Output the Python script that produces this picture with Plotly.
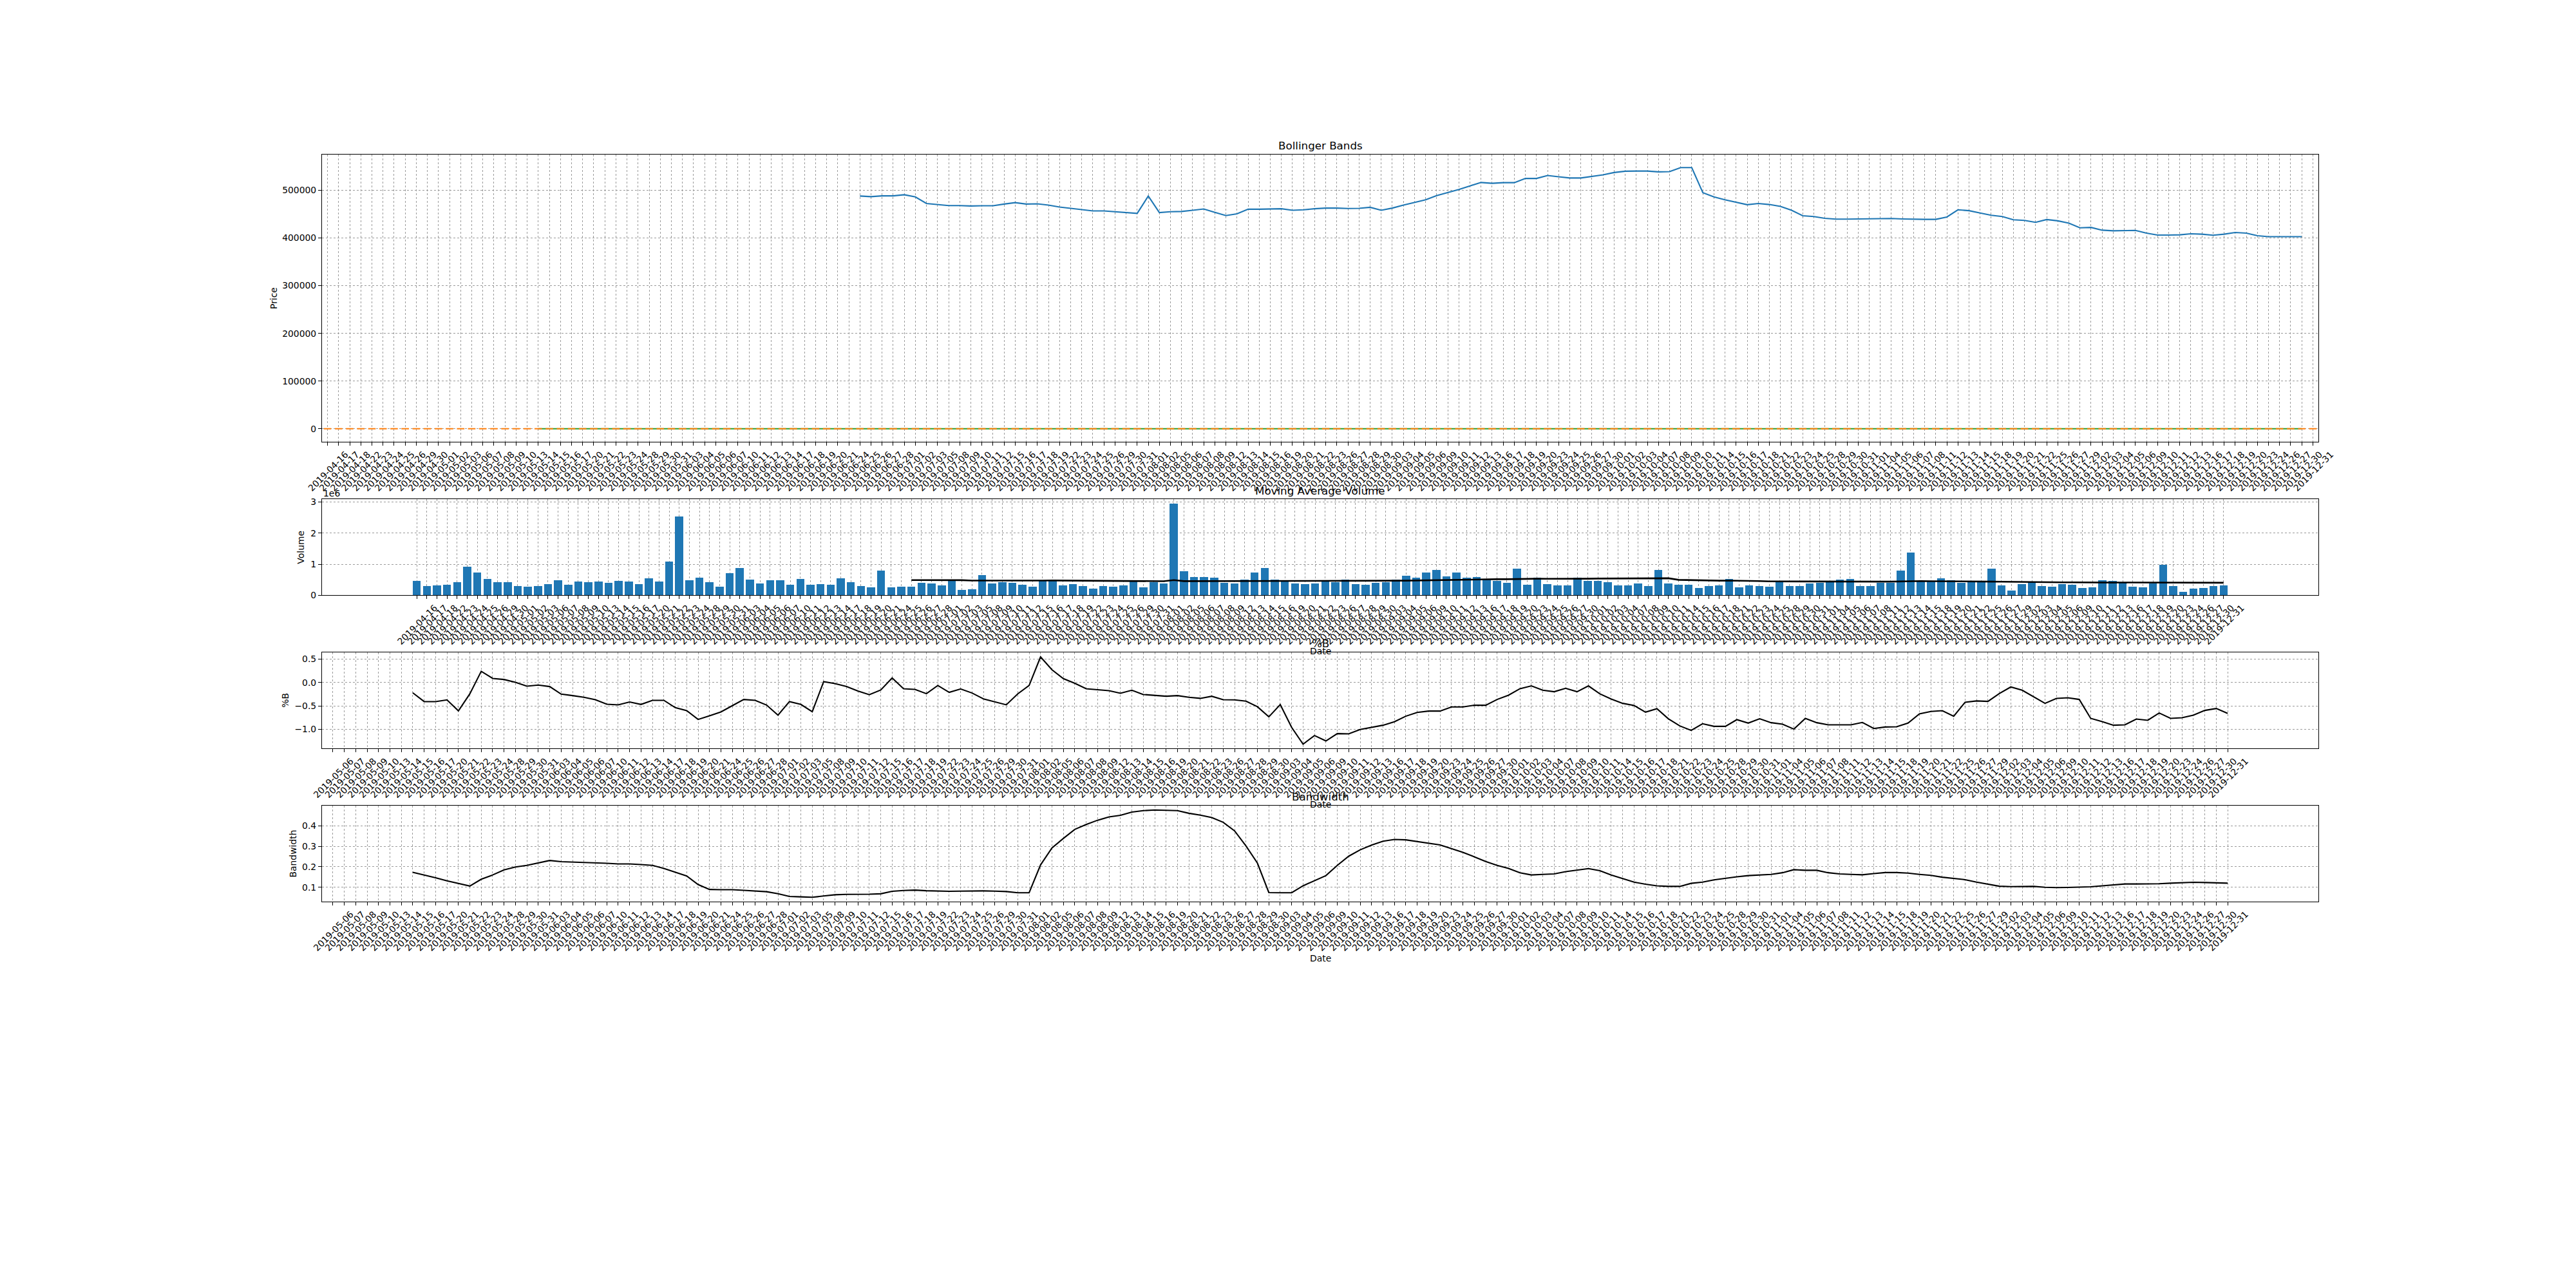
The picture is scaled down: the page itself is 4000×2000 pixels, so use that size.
import plotly.graph_objects as go

# ---------------- trading dates (tick labels) ----------------
apr = [16, 17, 18, 22, 23, 24, 25, 26, 29, 30]
may = [1, 2, 3, 6, 7, 8, 9, 10, 13, 14, 15, 16, 17, 20, 21, 22, 23, 24, 28, 29, 30, 31]
jun = [3, 4, 5, 6, 7, 10, 11, 12, 13, 14, 17, 18, 19, 20, 21, 24, 25, 26, 27, 28]
jul = [1, 2, 3, 5, 8, 9, 10, 11, 12, 15, 16, 17, 18, 19, 22, 23, 24, 25, 26, 29, 30, 31]
aug = [1, 2, 5, 6, 7, 8, 9, 12, 13, 14, 15, 16, 19, 20, 21, 22, 23, 26, 27, 28, 29, 30]
sep = [3, 4, 5, 6, 9, 10, 11, 12, 13, 16, 17, 18, 19, 20, 23, 24, 25, 26, 27, 30]
octo = [1, 2, 3, 4, 7, 8, 9, 10, 11, 14, 15, 16, 17, 18, 21, 22, 23, 24, 25, 28, 29, 30, 31]
nov = [1, 4, 5, 6, 7, 8, 11, 12, 13, 14, 15, 18, 19, 20, 21, 22, 25, 26, 27, 29]
dec = [2, 3, 4, 5, 6, 9, 10, 11, 12, 13, 16, 17, 18, 19, 20, 23, 24, 26, 27, 30, 31]
months = [(4, apr), (5, may), (6, jun), (7, jul), (8, aug), (9, sep), (10, octo), (11, nov), (12, dec)]
dates = [f"2019-{m:02d}-{d:02d}" for m, days in months for d in days]
idx = list(range(len(dates)))

# ---------------- series ----------------
volume = [
    462000, 297000, 317000, 338000, 421000, 917000, 731000, 524000, 421000, 421000,
    297000, 276000, 297000, 359000, 483000, 338000, 441000, 421000, 441000, 400000,
    462000, 441000, 359000, 545000, 441000, 1083000, 2531000, 483000, 566000, 421000,
    276000, 710000, 876000, 503000, 379000, 483000, 483000, 338000, 524000, 338000,
    359000, 338000, 545000, 421000, 297000, 255000, 793000, 255000, 276000, 276000,
    400000, 379000, 317000, 462000, 172000, 193000, 648000, 379000, 421000, 400000,
    338000, 276000, 483000, 483000, 317000, 359000, 297000, 214000, 297000, 276000,
    317000, 462000, 255000, 421000, 379000, 2945000, 772000, 586000, 586000, 566000,
    400000, 379000, 503000, 731000, 876000, 503000, 462000, 379000, 359000, 379000,
    462000, 421000, 503000, 359000, 338000, 400000, 421000, 503000, 628000, 566000,
    731000, 814000, 607000, 731000, 566000, 586000, 524000, 462000, 400000, 855000,
    338000, 566000, 359000, 317000, 317000, 566000, 462000, 462000, 421000, 317000,
    317000, 379000, 297000, 814000, 379000, 338000, 338000, 234000, 297000, 317000,
    524000, 255000, 317000, 297000, 276000, 441000, 297000, 297000, 379000, 400000,
    441000, 503000, 524000, 297000, 297000, 400000, 400000, 793000, 1372000, 441000,
    441000, 545000, 483000, 400000, 421000, 441000, 855000, 317000, 152000, 359000,
    421000, 297000, 276000, 359000, 338000, 234000, 255000, 483000, 462000, 421000,
    276000, 255000, 379000, 979000, 297000, 110000, 214000, 234000, 297000, 317000,
]

# moving-average volume (drawn in the price panel in blue and in the volume panel in black)
vol_ma = [
    488000, 486700, 488400, 488400, 490700, 486200, 472400, 470700, 468000, 468000,
    467100, 467600, 467600, 471100, 474200, 471100, 471600, 468900, 464900, 462200,
    459600, 456900, 456900, 455100, 452400, 451600, 488000, 453300, 455100, 455600,
    458200, 460900, 453800, 447100, 450700, 460400, 460400, 460400, 461300, 458200,
    459100, 461300, 462700, 462700, 461800, 462200, 464400, 458200, 462700, 468900,
    474700, 480000, 488900, 495100, 501800, 509300, 516400, 514700, 516000, 516000,
    524900, 524900, 531100, 528400, 525800, 525800, 529300, 532400, 537300, 540000,
    540400, 540400, 538700, 539100, 547600, 547600, 495100, 486200, 480000, 474700,
    469800, 472400, 470200, 466200, 458200, 446700, 444900, 441300, 439600, 439600,
    440000, 439600, 440400, 440900, 440000, 439100, 439100, 439100, 444000, 459100,
    457300, 452400, 447600, 444900, 438200, 436900, 432900, 438700, 436000, 431100,
    421300, 422200, 416400, 415100, 415100, 416000, 410200, 406200, 406200, 406700,
    408900, 408000, 405800, 408000, 411600, 410200, 404900, 402700, 402700, 402700,
    402700,
]
price_ma_start = 48   # first date of the blue line in the price panel
vol_ma_start = 49     # first date of the black line in the volume panel

# price and its 20-day average: at this scale both read as 0
close_price = [0] * len(dates)
ma20_start, ma20_end = 19, 178
ma20_price = [0] * (ma20_end - ma20_start + 1)

pct_b = [
    -0.220, -0.408, -0.408, -0.372, -0.606, -0.243, 0.239, 0.087, 0.064, 0.005,
    -0.078, -0.055, -0.087, -0.248, -0.280, -0.317, -0.367, -0.463, -0.477, -0.417,
    -0.468, -0.381, -0.381, -0.537, -0.601, -0.789, -0.711, -0.628, -0.495, -0.362,
    -0.381, -0.482, -0.697, -0.408, -0.468, -0.624, 0.018, -0.023, -0.087, -0.183,
    -0.261, -0.161, 0.096, -0.133, -0.147, -0.239, -0.064, -0.211, -0.138, -0.225,
    -0.349, -0.408, -0.477, -0.243, -0.064, 0.546, 0.271, 0.083, -0.018, -0.133,
    -0.151, -0.174, -0.229, -0.165, -0.257, -0.271, -0.294, -0.280, -0.317, -0.339,
    -0.294, -0.367, -0.372, -0.399, -0.518, -0.734, -0.472, -0.959, -1.317, -1.133,
    -1.248, -1.092, -1.096, -1.005, -0.959, -0.913, -0.839, -0.720, -0.638, -0.610,
    -0.610, -0.523, -0.523, -0.486, -0.486, -0.362, -0.271, -0.133, -0.073, -0.165,
    -0.197, -0.124, -0.197, -0.073, -0.243, -0.353, -0.445, -0.491, -0.633, -0.560,
    -0.775, -0.927, -1.023, -0.881, -0.936, -0.936, -0.794, -0.867, -0.775, -0.858,
    -0.890, -0.995, -0.766, -0.858, -0.904, -0.904, -0.904, -0.853, -0.982, -0.950,
    -0.945, -0.867, -0.670, -0.619, -0.601, -0.720, -0.422, -0.394, -0.404, -0.234,
    -0.096, -0.165, -0.307, -0.445, -0.339, -0.326, -0.362, -0.766, -0.835, -0.913,
    -0.904, -0.780, -0.807, -0.651, -0.766, -0.752, -0.697, -0.596, -0.555, -0.661,
]
bandwidth = [
    0.173, 0.160, 0.146, 0.131, 0.118, 0.106, 0.139, 0.160, 0.185, 0.199,
    0.207, 0.220, 0.231, 0.225, 0.223, 0.223, 0.221, 0.217, 0.214, 0.214,
    0.211, 0.207, 0.192, 0.173, 0.155, 0.113, 0.089, 0.088, 0.088, 0.085,
    0.082, 0.078, 0.068, 0.055, 0.053, 0.051, 0.057, 0.063, 0.065, 0.065,
    0.066, 0.068, 0.080, 0.084, 0.086, 0.083, 0.081, 0.080, 0.081, 0.082,
    0.082, 0.081, 0.079, 0.073, 0.073, 0.209, 0.292, 0.339, 0.383, 0.407,
    0.428, 0.444, 0.452, 0.468, 0.475, 0.478, 0.476, 0.475, 0.462, 0.453,
    0.441, 0.418, 0.376, 0.302, 0.218, 0.074, 0.073, 0.073, 0.107, 0.131,
    0.157, 0.207, 0.252, 0.283, 0.306, 0.325, 0.334, 0.332, 0.323, 0.316,
    0.307, 0.289, 0.271, 0.249, 0.226, 0.207, 0.192, 0.171, 0.160, 0.163,
    0.165, 0.176, 0.183, 0.191, 0.181, 0.160, 0.142, 0.125, 0.115, 0.107,
    0.104, 0.104, 0.119, 0.125, 0.136, 0.144, 0.151, 0.157, 0.159, 0.163,
    0.171, 0.186, 0.183, 0.183, 0.171, 0.165, 0.163, 0.161, 0.167, 0.172,
    0.172, 0.169, 0.163, 0.158, 0.149, 0.144, 0.137, 0.125, 0.116, 0.105,
    0.103, 0.103, 0.104, 0.100, 0.098, 0.099, 0.100, 0.102, 0.107, 0.111,
    0.116, 0.116, 0.116, 0.117, 0.120, 0.123, 0.124, 0.123, 0.121, 0.120,
]
ind_start = 20        # first date of %B / Bandwidth lines
ind_tick_start = 13   # first tick label of the %B / Bandwidth panels

price_ticks = [0, 100000, 200000, 300000, 400000, 500000]
volume_ticks = [0, 1e6, 2e6, 3e6]
volume_tick_text = ["0", "1", "2", "3"]
pctb_ticks = [-1.0, -0.5, 0.0, 0.5]
pctb_tick_text = ["\u22121.0", "\u22120.5", "0.0", "0.5"]
bw_ticks = [0.1, 0.2, 0.3, 0.4]
bw_tick_text = ["0.1", "0.2", "0.3", "0.4"]

# ---------------- figure ----------------
W, H = 4000, 2000
FONT = "DejaVu Sans"
BLUE, ORANGE, GREEN = "#1f77b4", "#ff7f0e", "#2ca02c"


def px(x):
    return x / W


def py(y):
    return 1 - y / H


def margin_range(lo, hi, frac=0.05):
    r = hi - lo
    return [lo - frac * r, hi + frac * r]


x_left, x_right = 500, 3600
panels = {  # top, bottom in pixels
    1: (240, 686),
    2: (775, 924.3),
    3: (1013.3, 1162.3),
    4: (1251, 1400),
}

fig = go.Figure()

price_x = idx[price_ma_start:price_ma_start + len(vol_ma)]
fig.add_trace(go.Scatter(x=price_x, y=vol_ma, mode="lines",
                         line=dict(color=BLUE, width=2.1), xaxis="x", yaxis="y"))
fig.add_trace(go.Scatter(x=idx[ma20_start:ma20_end + 1], y=ma20_price, mode="lines",
                         line=dict(color=GREEN, width=2.1), xaxis="x", yaxis="y"))
fig.add_trace(go.Scatter(x=idx, y=close_price, mode="markers",
                         marker=dict(symbol="line-ew", size=8.3, color=ORANGE,
                                     line=dict(color=ORANGE, width=2)),
                         xaxis="x", yaxis="y"))

fig.add_trace(go.Bar(x=idx, y=volume, width=0.8, marker=dict(color=BLUE, line=dict(width=0)),
                     xaxis="x2", yaxis="y2"))
vm_x = idx[vol_ma_start:vol_ma_start + len(vol_ma)]
fig.add_trace(go.Scatter(x=vm_x, y=vol_ma, mode="lines", line=dict(color="black", width=2.6),
                         xaxis="x2", yaxis="y2"))

ind_x = idx[ind_start:ind_start + len(pct_b)]
fig.add_trace(go.Scatter(x=ind_x, y=pct_b, mode="lines", line=dict(color="black", width=2.1),
                         xaxis="x3", yaxis="y3"))
fig.add_trace(go.Scatter(x=ind_x, y=bandwidth, mode="lines", line=dict(color="black", width=2.1),
                         xaxis="x4", yaxis="y4"))

grid = dict(showgrid=True, gridcolor="#9a9a9a", gridwidth=1, griddash="dot")
common = dict(showline=True, linecolor="black", linewidth=1.1, mirror=True,
              ticks="outside", ticklen=5, tickwidth=1.1, tickcolor="black",
              tickfont=dict(family=FONT, size=13.9, color="black"),
              zeroline=False, automargin=False, **grid)


def xaxis(n, rng, first_tick):
    top, bot = panels[n]
    tv = idx[first_tick:]
    return dict(domain=[px(x_left), px(x_right)], anchor=f"y{'' if n == 1 else n}",
                range=rng, tickmode="array", tickvals=tv, ticktext=dates[first_tick:],
                tickangle=-45, ticklabelshift=28, **common)


def yaxis(n, rng, tv, tt):
    top, bot = panels[n]
    return dict(domain=[py(bot), py(top)], anchor=f"x{'' if n == 1 else n}", range=rng,
                tickmode="array", tickvals=tv, ticktext=tt, **common)


price_range = margin_range(min(min(close_price), min(vol_ma)), max(vol_ma))
vol_range = [0, 1.05 * max(volume)]
pctb_range = margin_range(min(pct_b), max(pct_b))
bw_range = margin_range(min(bandwidth), max(bandwidth))
bar_range = margin_range(idx[0] - 0.4, idx[-1] + 0.4)
ind_range = margin_range(ind_x[0], ind_x[-1])

fig.update_layout(
    xaxis=xaxis(1, [-0.5, idx[-1] + 0.5], 0),
    xaxis2=xaxis(2, bar_range, 0),
    xaxis3=xaxis(3, ind_range, ind_tick_start),
    xaxis4=xaxis(4, ind_range, ind_tick_start),
    yaxis=yaxis(1, price_range, price_ticks, [str(v) for v in price_ticks]),
    yaxis2=yaxis(2, vol_range, volume_ticks, volume_tick_text),
    yaxis3=yaxis(3, pctb_range, pctb_ticks, pctb_tick_text),
    yaxis4=yaxis(4, bw_range, bw_ticks, bw_tick_text),
)

ann = []
cx = (x_left + x_right) / 2


def text(x, y, s, size=13.9, angle=0, xanchor="center", yanchor="middle"):
    ann.append(dict(x=px(x), y=py(y), xref="paper", yref="paper", text=s, showarrow=False,
                    textangle=angle, xanchor=xanchor, yanchor=yanchor,
                    font=dict(family=FONT, size=size, color="black")))


text(cx, 226, "Bollinger Bands", size=16.7)
text(cx, 762, "Moving Average Volume", size=16.7)
text(cx, 999, "%B", size=16.7)
text(cx, 1237, "Bandwidth", size=16.7)
text(cx, 1011, "Date")
text(cx, 1249, "Date")
text(cx, 1488, "Date")
text(425, (panels[1][0] + panels[1][1]) / 2, "Price", angle=-90)
text(467, (panels[2][0] + panels[2][1]) / 2, "Volume", angle=-90)
text(443, (panels[3][0] + panels[3][1]) / 2, "%B", angle=-90)
text(454, (panels[4][0] + panels[4][1]) / 2, "Bandwidth", angle=-90)
text(500, 766, "1e6", xanchor="left")

fig.update_layout(
    annotations=ann,
    width=W, height=H, autosize=False,
    margin=dict(l=0, r=0, t=0, b=0, pad=0),
    paper_bgcolor="white", plot_bgcolor="white",
    showlegend=False, bargap=0,
    font=dict(family=FONT, size=13.9, color="black"),
    template="none",
)

fig.write_html("out.html")
